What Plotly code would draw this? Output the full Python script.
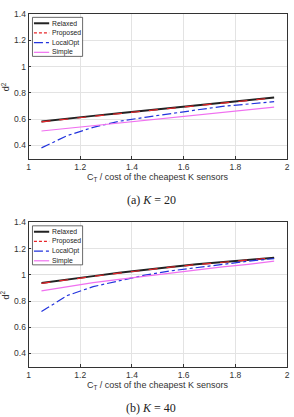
import plotly.graph_objects as go

x_vals = [1.05, 1.15, 1.25, 1.35, 1.45, 1.55, 1.65, 1.75, 1.85, 1.95]

# (a) K = 20
relaxed_20 = [0.582, 0.605, 0.625, 0.645, 0.665, 0.685, 0.705, 0.725, 0.745, 0.765]
proposed_20 = [0.579, 0.602, 0.622, 0.642, 0.662, 0.682, 0.702, 0.722, 0.742, 0.762]
localopt_20 = [0.382, 0.475, 0.538, 0.584, 0.614, 0.644, 0.670, 0.697, 0.715, 0.733]
simple_20 = [0.510, 0.530, 0.550, 0.570, 0.590, 0.610, 0.630, 0.650, 0.670, 0.692]

# (b) K = 40
relaxed_40 = [0.937, 0.965, 0.990, 1.015, 1.040, 1.060, 1.080, 1.098, 1.115, 1.130]
proposed_40 = [0.935, 0.963, 0.988, 1.013, 1.038, 1.058, 1.078, 1.097, 1.115, 1.130]
localopt_40 = [0.720, 0.842, 0.910, 0.953, 0.998, 1.030, 1.056, 1.080, 1.104, 1.124]
simple_40 = [0.877, 0.910, 0.940, 0.965, 0.990, 1.010, 1.035, 1.060, 1.080, 1.104]

series_names = ["Relaxed", "Proposed", "LocalOpt", "Simple"]
x_ticks = [1, 1.2, 1.4, 1.6, 1.8, 2]
x_ticklabels = ["1", "1.2", "1.4", "1.6", "1.8", "2"]
y_ticks = [0.4, 0.6, 0.8, 1.0, 1.2, 1.4]
y_ticklabels = ["0.4", "0.6", "0.8", "1", "1.2", "1.4"]
captions = ["(a) <i>K</i> = 20", "(b) <i>K</i> = 40"]
x_title = "C<sub>T</sub> / cost of the cheapest K sensors"
y_title = "d<sup>2</sup>"

styles = [
    dict(color="#222222", width=2.0, dash="solid"),
    dict(color="#e8262a", width=1.2, dash="dash"),
    dict(color="#2233dd", width=1.2, dash="dashdot"),
    dict(color="#f070f0", width=1.2, dash="solid"),
]

W, H = 294, 417
panels = [
    dict(data=[relaxed_20, proposed_20, localopt_20, simple_20], top=9, bottom=155.5),
    dict(data=[relaxed_40, proposed_40, localopt_40, simple_40], top=220, bottom=366),
]
x_left, x_right = 27, 290

fig = go.Figure()
annotations = []
shapes = []
font_sans = "Liberation Sans, Arial"
for i, p in enumerate(panels):
    suffix = "" if i == 0 else str(i + 1)
    for name, ys, st in zip(series_names, p["data"], styles):
        fig.add_trace(go.Scatter(
            x=x_vals, y=ys, mode="lines", name=name, line=st,
            xaxis="x" + suffix, yaxis="y" + suffix, showlegend=False,
        ))
    ydom = [1 - p["bottom"] / H, 1 - p["top"] / H]
    axis_common = dict(
        showline=True, linecolor="#333333", linewidth=0.8, mirror=True,
        showgrid=True, gridcolor="#e3e3e3", gridwidth=0.8,
        ticks="inside", ticklen=3, tickcolor="#333333",
        tickfont=dict(family=font_sans, size=8.5, color="#333333"),
        zeroline=False,
    )
    fig.update_layout(**{
        "xaxis" + suffix: dict(domain=[x_left / W, x_right / W], range=[1, 2],
                               tickvals=x_ticks, ticktext=x_ticklabels,
                               anchor="y" + suffix, **axis_common),
        "yaxis" + suffix: dict(domain=ydom, range=[0.3, 1.4],
                               tickvals=y_ticks, ticktext=y_ticklabels,
                               anchor="x" + suffix, **axis_common),
    })
    # compact legend (MATLAB style)
    lt = p["top"] + 3.5
    box = dict(x0=31, x1=82, y0=lt, y1=lt + 39.5)
    shapes.append(dict(type="rect", xref="paper", yref="paper",
                       x0=box["x0"] / W, x1=box["x1"] / W,
                       y0=1 - box["y0"] / H, y1=1 - box["y1"] / H,
                       line=dict(color="#444444", width=0.8), fillcolor="white",
                       layer="above"))
    for k, (name, st) in enumerate(zip(series_names, styles)):
        yy = lt + 6 + k * 9.8
        shapes.append(dict(type="line", xref="paper", yref="paper",
                           x0=32.5 / W, x1=48 / W, y0=1 - yy / H, y1=1 - yy / H,
                           line=dict(color=st["color"], width=st["width"],
                                     dash=st["dash"] if st["dash"] != "dash" else "3px,2px"),
                           layer="above"))
        annotations.append(dict(
            text=name, x=48.5 / W, y=1 - yy / H, xref="paper", yref="paper",
            showarrow=False, xanchor="left", yanchor="middle",
            font=dict(family=font_sans, size=6.8, color="#222222"),
        ))
    annotations.append(dict(
        text=x_title, x=(x_left + x_right) / 2 / W, y=1 - (p["bottom"] + 19) / H,
        xref="paper", yref="paper", showarrow=False, yanchor="middle",
        font=dict(family=font_sans, size=9, color="#333333"),
    ))
    annotations.append(dict(
        text=y_title, x=4 / W, y=1 - (p["top"] + p["bottom"]) / 2 / H,
        xref="paper", yref="paper", showarrow=False, textangle=-90,
        xanchor="center", yanchor="middle",
        font=dict(family=font_sans, size=9, color="#333333"),
    ))
    annotations.append(dict(
        text=captions[i], x=152 / W, y=1 - (p["bottom"] + 42) / H,
        xref="paper", yref="paper", showarrow=False, yanchor="middle",
        font=dict(family="Liberation Serif, DejaVu Serif, serif", size=12, color="#222222"),
    ))

fig.update_layout(
    width=W, height=H, margin=dict(l=0, r=0, t=0, b=0),
    paper_bgcolor="white", plot_bgcolor="white",
    annotations=annotations, shapes=shapes, showlegend=False,
)
fig.write_html("out.html")
